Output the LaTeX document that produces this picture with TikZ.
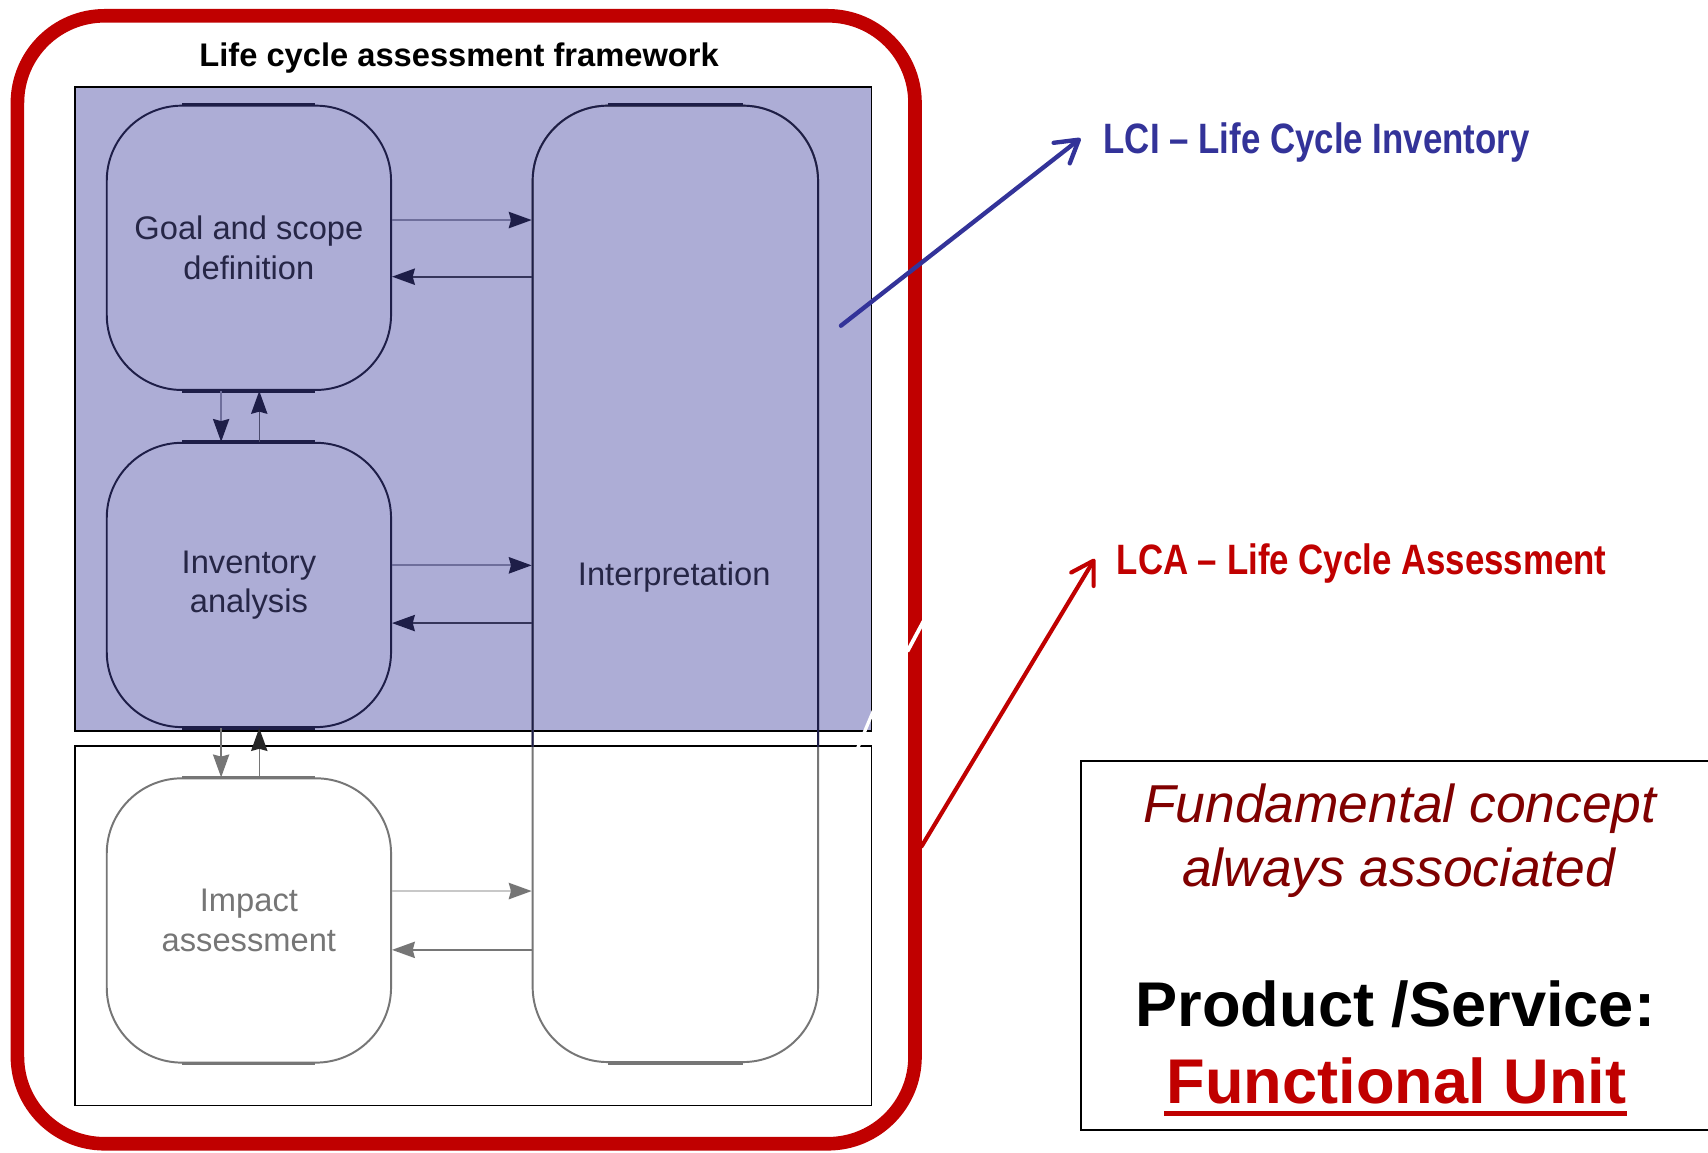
\documentclass[tikz,border=0pt]{standalone}
\usepackage{fontspec}
\setmainfont{Liberation Sans}
\newfontfamily\narrowfont{Liberation Sans}[FakeStretch=0.82]
\usetikzlibrary{arrows.meta}
\definecolor{lav}{RGB}{173,173,214}
\definecolor{navy}{RGB}{30,30,72}
\definecolor{boxtext}{RGB}{38,38,70}
\definecolor{arrline}{RGB}{110,110,155}
\definecolor{gry}{RGB}{118,118,118}
\definecolor{lgry}{RGB}{200,200,200}
\definecolor{redb}{RGB}{192,0,0}
\definecolor{dred}{RGB}{128,0,0}
\definecolor{lciblue}{RGB}{51,51,153}
\begin{document}
\begin{tikzpicture}[x=1pt,y=-1pt,
  phase/.style={draw=navy,line width=1.8pt,rounded corners=69pt,minimum width=261pt,minimum height=261pt,inner sep=0pt,align=center,font=\fontsize{30}{36}\selectfont,text=boxtext},
  flatedge/.style={line width=3.2pt},
  fl/.style={line width=1.5pt},
  fllight/.style={line width=2pt},
  tipnavy/.style={-{Stealth[length=21pt,width=15pt,inset=2pt,color=navy]}},
  tipgray/.style={-{Stealth[length=21pt,width=15pt,inset=2pt,color=gry]}},
  tipblack/.style={-{Stealth[length=21pt,width=15pt,inset=2pt,color=black!85]}},
  bigarrow/.style={line width=4pt,line cap=round,-{Straight Barb[length=20pt,width=24pt,round]}},
  lbl/.style={inner sep=0pt,anchor=base west,font=\narrowfont\bfseries\fontsize{39}{44}\selectfont}]
\useasboundingbox (0,0) rectangle (1568,1058);
\fill[white] (0,0) rectangle (1568,1058);

% outer red frame
\draw[redb,line width=12.5pt,rounded corners=80pt] (16,14.5) rectangle (840,1050);

% title
\node[inner sep=0pt,anchor=base,font=\bfseries\fontsize{30}{36}\selectfont] (title) at (421.5,61.5) {Life cycle assessment framework};

% phase areas
\draw[fill=lav,line width=1.5pt] (69,80) rectangle (800,671);
\draw[line width=1.5pt] (69,685) rectangle (800,1015);

% interpretation box: gray below, navy above
\node[phase,draw=gry,minimum width=262pt,minimum height=878pt] (interp) at (620,536) {};
\begin{scope}
  \clip (0,0) rectangle (1000,685);
  \node[phase,minimum width=262pt,minimum height=878pt] (interptop) at (620,536) {};
  \draw[navy,flatedge] ([xshift=-62pt]interptop.north) -- ([xshift=62pt]interptop.north);
\end{scope}
\draw[gry,flatedge] ([xshift=-62pt]interp.south) -- ([xshift=62pt]interp.south);
\node[inner sep=0pt,font=\fontsize{30}{36}\selectfont,text=boxtext] (interplabel) at (619,530) {Interpretation};

% phase boxes
\node[phase] (goal) at (228.5,227.5) {Goal and scope\\definition};
\node[phase] (inv) at (228.5,537) {Inventory\\analysis};
\node[phase,draw=gry,text=gry] (imp) at (228.5,845) {Impact\\assessment};
\foreach \b in {goal,inv}{
  \draw[navy,flatedge] ([xshift=-61pt]\b.north) -- ([xshift=61pt]\b.north);
  \draw[navy,flatedge] ([xshift=-61pt]\b.south) -- ([xshift=61pt]\b.south);
}
\draw[gry,flatedge] ([xshift=-61pt]imp.north) -- ([xshift=61pt]imp.north);
\draw[gry,flatedge] ([xshift=-61pt]imp.south) -- ([xshift=61pt]imp.south);

% horizontal connectors
\draw[fllight,arrline,tipnavy] (goal.east |- 0,202) -- (interp.west |- 0,202);
\draw[fl,navy!90,tipnavy] (interp.west |- 0,254) -- (goal.east |- 0,254);
\draw[fllight,arrline,tipnavy] (inv.east |- 0,519) -- (interp.west |- 0,519);
\draw[fl,navy!90,tipnavy] (interp.west |- 0,572) -- (inv.east |- 0,572);
\draw[fllight,lgry,tipgray] (imp.east |- 0,818) -- (interp.west |- 0,818);
\draw[fl,gry,tipgray] (interp.west |- 0,872) -- (imp.east |- 0,872);

% vertical connectors
\draw[line width=1.3pt,arrline,tipnavy] (goal.south -| 203,0) -- (inv.north -| 203,0);
\draw[line width=1.3pt,navy!80,tipnavy] (inv.north -| 238,0) -- (goal.south -| 238,0);
\draw[line width=1.3pt,gry,tipgray] (inv.south -| 203,0) -- (imp.north -| 203,0);
\draw[line width=1.3pt,gry,tipblack] (imp.north -| 238,0) -- (inv.south -| 238,0);

% small white strokes
\draw[white,line width=3.5pt] (848,570) -- (833,598);
\draw[white,line width=3pt] (802,652) -- (786,690);

% LCI label and arrow
\node[lbl,text=lciblue] (lci) at (1013,141) {LCI – Life Cycle Inventory};
\coordinate (lcistart) at (772,299);
\coordinate (lcitip) at (992,127);
\draw[bigarrow,lciblue] (lcistart) -- (lcitip);

% LCA label and arrow
\node[lbl,text=redb] (lca) at (1025,527) {LCA – Life Cycle Assessment};
\coordinate (lcastart) at (846,777);
\coordinate (lcatip) at (1005,513);
\draw[bigarrow,redb,line width=3.8pt] (lcastart) -- (lcatip);

% functional unit box
\draw[line width=1.8pt] (992,699) rectangle (1580,1037);
\node[inner sep=0pt,anchor=base,text=dred,font=\itshape\fontsize{49}{56}\selectfont] (fc1) at (1285,755) {Fundamental concept};
\node[inner sep=0pt,anchor=base,text=dred,font=\itshape\fontsize{49}{56}\selectfont] (fc2) at (1284,814) {always associated};
\node[inner sep=0pt,anchor=base,font=\bfseries\fontsize{58}{66}\selectfont] (ps) at (1281,942) {Product /Service:};
\node[inner sep=0pt,anchor=base,text=redb,font=\bfseries\fontsize{58}{66}\selectfont] (fu) at (1282,1013) {Functional Unit};
\draw[redb,line width=5pt] ([xshift=-2pt,yshift=-9pt]fu.base west) -- ([yshift=-9pt]fu.base east);
\end{tikzpicture}
\end{document}
